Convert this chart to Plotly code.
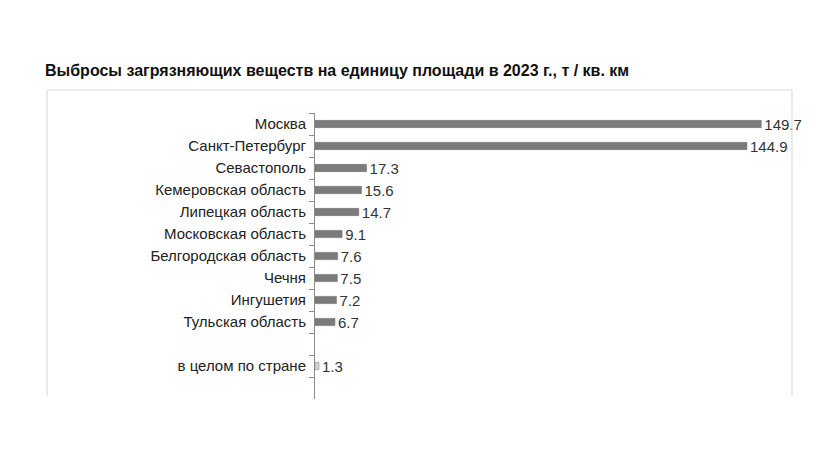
import plotly.graph_objects as go

# data
regions = ["Москва", "Санкт-Петербург", "Севастополь", "Кемеровская область",
           "Липецкая область", "Московская область", "Белгородская область",
           "Чечня", "Ингушетия", "Тульская область", " ", "в целом по стране", "  "]
values = [149.7, 144.9, 17.3, 15.6, 14.7, 9.1, 7.6, 7.5, 7.2, 6.7, None, 1.3, None]
labels = ["149.7", "144.9", "17.3", "15.6", "14.7", "9.1", "7.6", "7.5", "7.2", "6.7", "", "1.3", ""]

# page body has an 8px margin, so the figure is drawn 8px in from the corner
OFF = 8
W, H = 840 - OFF, 450 - OFF
left, right, top, bottom = 315 - OFF, 792 - OFF, 113 - OFF, 399 - OFF

colors = ["#7b7b7b"] * len(regions)
colors[regions.index("в целом по стране")] = "#d6d6d6"

fig = go.Figure()
fig.add_trace(go.Bar(
    x=values, y=regions, orientation="h",
    marker=dict(color=colors, line=dict(color="#6e6e6e", width=0.5)),
    width=0.33,
    text=labels, textposition="outside", constraintext="none",
    cliponaxis=False,
    textfont=dict(family="Liberation Sans, Arial", size=15, color="#333333"),
    hoverinfo="skip",
))

# light frame around the chart (left, top, right edges)
def fx(xp):
    return (xp - OFF - left) / (right - left)

def fy(yp):
    return (bottom - (yp - OFF)) / (bottom - top)

frame = "#dedede"
x0, x1 = fx(47), fx(792)
y0, y1 = fy(396), fy(90)
for a, b, c, d in [(x0, y0, x0, y1), (x0, y1, x1, y1), (x1, y1, x1, y0)]:
    fig.add_shape(type="line", xref="paper", yref="paper", x0=a, y0=b, x1=c, y1=d,
                  line=dict(color=frame, width=1.2))

fig.update_xaxes(range=[0, 160], visible=False, fixedrange=True)
fig.update_yaxes(
    type="category", categoryorder="array", categoryarray=regions,
    range=[len(regions) - 0.5, -0.5],
    showline=True, linecolor="#8c8c8c", linewidth=1,
    ticks="outside", tickson="boundaries", ticklen=5, tickcolor="#8c8c8c",
    ticklabelstandoff=5,
    showgrid=False, zeroline=False,
    tickfont=dict(family="Liberation Sans, Arial", size=15, color="#222222"),
)

fig.update_layout(
    width=W, height=H,
    margin=dict(l=left, r=W - right, t=top, b=H - bottom),
    paper_bgcolor="white", plot_bgcolor="white",
    showlegend=False,
    title=dict(
        text="<b>Выбросы загрязняющих веществ на единицу площади в 2023 г., т / кв. км</b>",
        x=(45 - OFF) / W, xanchor="left", xref="container",
        y=1 - (70 - OFF) / H, yanchor="middle", yref="container",
        font=dict(family="Liberation Sans, Arial", size=16, color="#111111"),
    ),
)

fig.write_html("out.html")
